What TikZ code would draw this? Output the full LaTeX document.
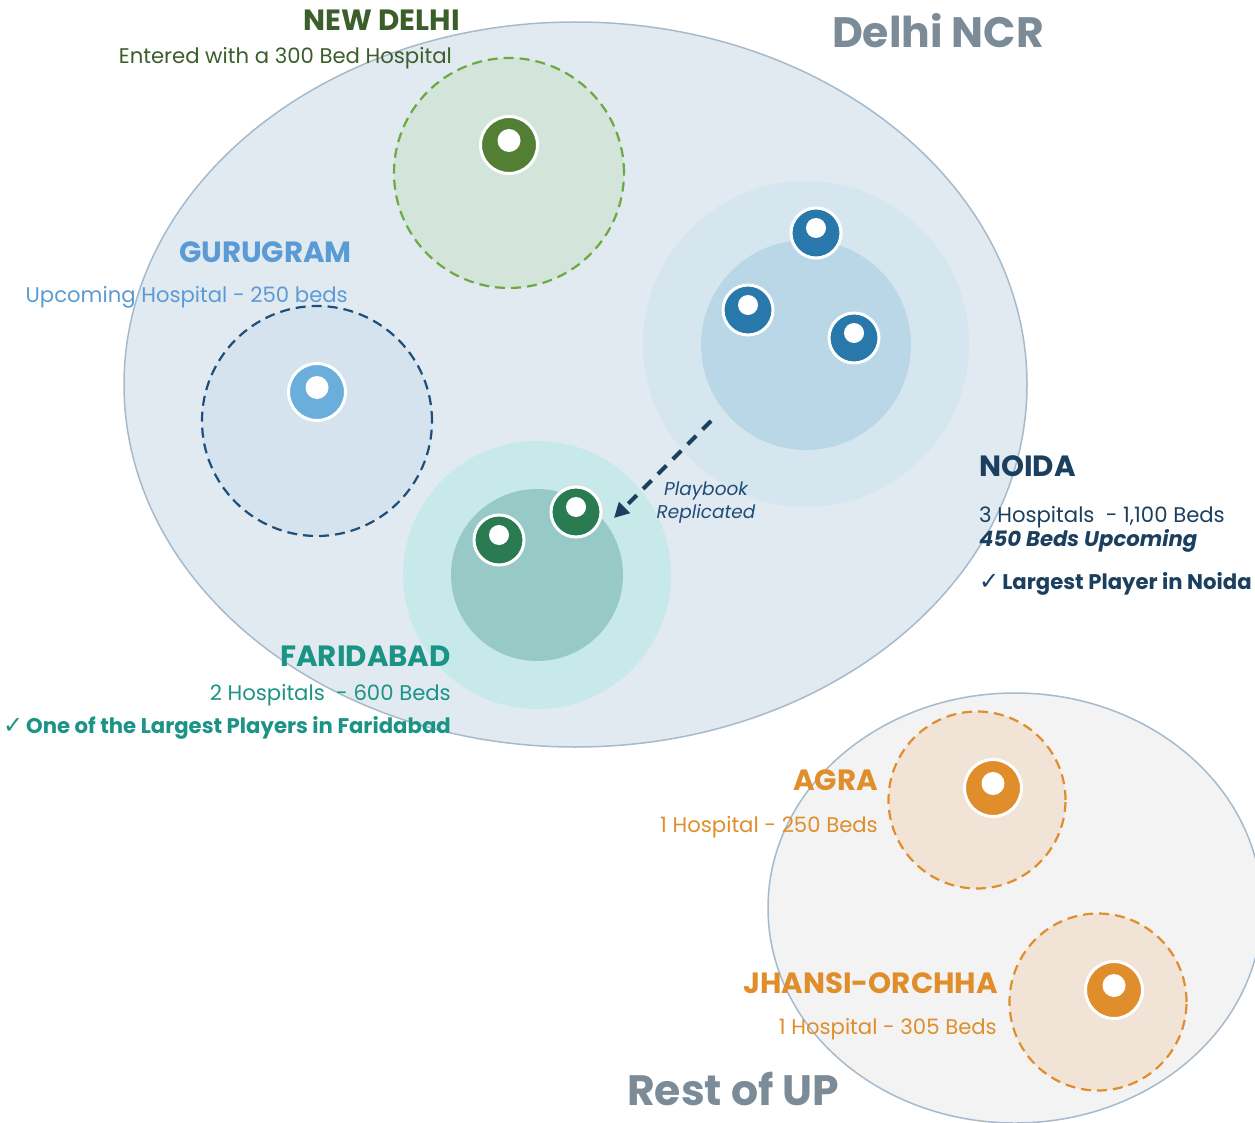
\documentclass[tikz,border=0pt]{standalone}
\usepackage{fontspec}
\setmainfont{Poppins}
\newfontfamily\symfont{DejaVu Sans}
\usetikzlibrary{arrows.meta}
\definecolor{ncrfill}{HTML}{E2EAF1}
\definecolor{rimline}{HTML}{A7BACB}
\definecolor{upfill}{HTML}{F3F3F3}
\definecolor{dgreen}{HTML}{3B5E2B}
\definecolor{pgreen}{HTML}{537F34}
\definecolor{ndfill}{HTML}{D3E4DA}
\definecolor{nddash}{HTML}{6AAA3E}
\definecolor{gblue}{HTML}{5B9BD5}
\definecolor{gpin}{HTML}{6AAEDC}
\definecolor{gfill}{HTML}{D5E3EE}
\definecolor{navy}{HTML}{1B3F5E}
\definecolor{gdash}{HTML}{1F4E79}
\definecolor{nout}{HTML}{D6E6EF}
\definecolor{ninn}{HTML}{BAD7E8}
\definecolor{npin}{HTML}{2878AB}
\definecolor{teal}{HTML}{1B9385}
\definecolor{fout}{HTML}{C8E9EA}
\definecolor{finn}{HTML}{97C9C6}
\definecolor{fpin}{HTML}{2A7A52}
\definecolor{orng}{HTML}{E08E2B}
\definecolor{ofill}{HTML}{F1E3D6}
\definecolor{gtitle}{HTML}{7B8B97}
\newcommand{\chk}{{\symfont\fontsize{24}{24}\selectfont ✓}\hspace{3pt}}
\tikzset{
  hpin/.style={circle, minimum size=57pt, inner sep=0pt, fill=#1, draw=white, line width=3pt,
    path picture={\fill[white] ([yshift=4.5pt]path picture bounding box.center) circle (11.5pt);}},
  spin/.style={circle, minimum size=50pt, inner sep=0pt, fill=#1, draw=white, line width=3pt,
    path picture={\fill[white] ([yshift=5pt]path picture bounding box.center) circle (10pt);}},
  cityzone/.style={circle, inner sep=0pt, minimum size=#1},
  dzone/.style={line width=2.2pt, dash pattern=on 10pt off 6pt},
  bigtitle/.style={font=\fontsize{42.5}{46}\selectfont\bfseries, text=gtitle, inner sep=0pt},
  cityname/.style={font=\fontsize{29.3}{32}\selectfont\bfseries, inner sep=0pt},
  cityinfo/.style={font=\fontsize{21.2}{25}\selectfont, inner sep=0pt},
  cityclaim/.style={font=\fontsize{21.2}{24}\selectfont\bfseries, inner sep=0pt},
}
\begin{document}
\begin{tikzpicture}[x=1pt,y=-1pt]
\useasboundingbox (0,0) rectangle (1255,1123);
% regions
\draw[fill=ncrfill, draw=rimline, line width=1.5pt] (575.5,384.5) ellipse [x radius=451.5pt, y radius=362.5pt];
\draw[fill=upfill, draw=rimline, line width=1.5pt] (1015,908) ellipse [x radius=247pt, y radius=215pt];
% New Delhi
\node[cityzone=230pt, fill=ndfill, draw=nddash, dzone] (ndz) at (509,173) {};
\node[hpin=pgreen] (ndp) at (509,145) {};
% Gurugram
\node[cityzone=230pt, fill=gfill, draw=gdash, dzone] (guz) at (317,421) {};
\node[hpin=gpin] (gup) at (317,392) {};
% Noida
\node[cityzone=326pt, fill=nout] (noo) at (806,344) {};
\node[cityzone=210pt, fill=ninn] (noi) at (806,345) {};
\node[spin=npin] (np1) at (816,233) {};
\node[spin=npin] (np2) at (748,310) {};
\node[spin=npin] (np3) at (854,338) {};
% Faridabad
\node[cityzone=268pt, fill=fout] (fao) at (537,575) {};
\node[cityzone=172pt, fill=finn] (fai) at (537,575) {};
\node[spin=fpin] (fp1) at (576,512) {};
\node[spin=fpin] (fp2) at (499,540) {};
% Agra, Jhansi
\node[cityzone=177pt, fill=ofill, draw=orng, dzone] (agz) at (977,800) {};
\node[hpin=orng] (agp) at (993,788) {};
\node[cityzone=177pt, fill=ofill, draw=orng, dzone] (jhz) at (1098,1002) {};
\node[hpin=orng] (jhp) at (1114,990) {};
% arrow
\coordinate (arrS) at (711,421);
\coordinate (arrE) at (614,518);
\draw[navy, line width=4pt, dash pattern=on 12pt off 9pt, -{Triangle[length=15pt,width=15pt]}] (arrS) -- (arrE);
\node[font=\fontsize{18.5}{23}\selectfont\itshape, text=gdash, align=center, inner sep=0pt, anchor=base] (pbk) at (706,518) {Playbook\\Replicated};
% titles
\node[bigtitle, anchor=base] (ncrt) at (938,48) {Delhi NCR};
\node[bigtitle, anchor=base west] (upt) at (627,1105) {Rest of UP};
% New Delhi text
\node[cityname, text=dgreen, anchor=base east] (ndn) at (460,31) {NEW DELHI};
\node[cityinfo, text=dgreen, anchor=base east] (ndi) at (452,64) {Entered with a 300 Bed Hospital};
% Gurugram text
\node[cityname, text=gblue, anchor=base east] (gun) at (352,263) {GURUGRAM};
\node[cityinfo, text=gblue, anchor=base east] (gui) at (348,302) {Upcoming Hospital - 250 beds};
% Noida text
\node[cityname, text=navy, anchor=base west] (non) at (979,476) {NOIDA};
\node[cityinfo, text=navy, anchor=base west] (noi1) at (979,522) {3 Hospitals\ \ - 1,100 Beds};
\node[cityclaim, text=navy, anchor=base west, font=\fontsize{21.2}{24}\selectfont\bfseries\itshape] (noi2) at (979,546) {450 Beds Upcoming};
\node[cityclaim, text=navy, anchor=base west] (noi3) at (979,589) {\chk Largest Player in Noida};
% Faridabad text
\node[cityname, text=teal, anchor=base east] (fan) at (451,666) {FARIDABAD};
\node[cityinfo, text=teal, anchor=base east] (fai1) at (451,700) {2 Hospitals\ \ - 600 Beds};
\node[cityclaim, text=teal, anchor=base east] (fai2) at (451,733) {\chk One of the Largest Players in Faridabad};
% Agra text
\node[cityname, text=orng, anchor=base east] (agn) at (878,790) {AGRA};
\node[cityinfo, text=orng, anchor=base east] (agi) at (878,832) {1 Hospital - 250 Beds};
% Jhansi text
\node[cityname, text=orng, anchor=base east] (jhn) at (998,993) {JHANSI-ORCHHA};
\node[cityinfo, text=orng, anchor=base east] (jhi) at (997,1034) {1 Hospital - 305 Beds};
\end{tikzpicture}
\end{document}
